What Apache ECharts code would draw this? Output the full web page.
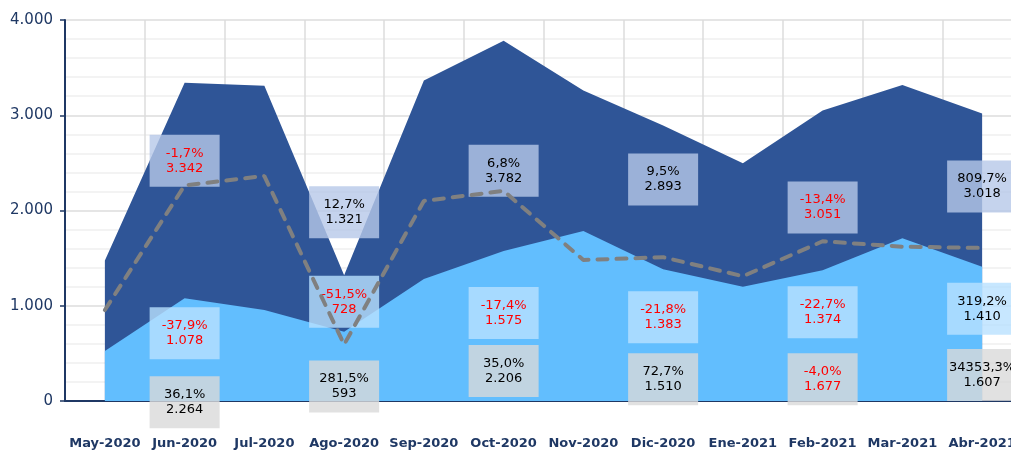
<!DOCTYPE html>
<html>
<head>
<meta charset="utf-8">
<script src="https://cdn.jsdelivr.net/npm/echarts@6/dist/echarts.min.js"></script>
<style>
  html, body { margin: 0; padding: 0; background: #fff; }
  #chart { width: 1011px; height: 452px; }
</style>
</head>
<body>
<div id="chart"></div>
<script>
// categories
var months = ['May-2020', 'Jun-2020', 'Jul-2020', 'Ago-2020', 'Sep-2020', 'Oct-2020',
  'Nov-2020', 'Dic-2020', 'Ene-2021', 'Feb-2021', 'Mar-2021', 'Abr-2021']

// series values
var darkValues = [1476, 3342, 3310, 1321, 3365, 3782, 3260, 2893, 2495, 3051, 3318, 3018]
var lightValues = [525, 1078, 955, 728, 1281, 1575, 1785, 1383, 1200, 1374, 1708, 1410]
var lineValues = [955, 2264, 2362, 593, 2100, 2206, 1480, 1510, 1310, 1677, 1620, 1607]

// percent change labels (null = no label)
var darkPct = [null, '-1,7%', null, '12,7%', null, '6,8%', null, '9,5%', null, '-13,4%', null, '809,7%']
var lightPct = [null, '-37,9%', null, '-51,5%', null, '-17,4%', null, '-21,8%', null, '-22,7%', null, '319,2%']
var linePct = [null, '36,1%', null, '281,5%', null, '35,0%', null, '72,7%', null, '-4,0%', null, '34353,3%']

// y axis ticks
var yMin = 0
var yMax = 4000
var yStep = 1000

// label box vertical offsets (px, from point)
var darkOffsets = [0, 78, 0, -63, 0, 130, 0, 54, 0, 97, 0, 73]
var lightOffsets = [0, 35, 0, -30, 0, 62, 0, 48, 0, 42, 0, 42]
var lineOffsets = [0, 217, 0, 42, 0, 180, 0, 122, 0, 138, 0, 127]

var NAVY = '#1F3864'
var FONT = 'DejaVu Sans'

function fmt (v) {
  return String(v).replace(/\B(?=(\d{3})+(?!\d))/g, '.')
}

function buildData (values, pcts, offsets, boxColor) {
  return values.map(function (v, i) {
    if (!pcts[i]) return { value: v, label: { show: false } }
    var neg = pcts[i].charAt(0) === '-'
    return {
      value: v,
      label: {
        show: true,
        position: 'inside',
        offset: [0, offsets[i]],
        formatter: pcts[i] + '\n' + fmt(v),
        color: neg ? '#FF0000' : '#000000',
        backgroundColor: boxColor,
        width: 70,
        height: 52,
        padding: 0,
        align: 'center',
        verticalAlign: 'middle',
        lineHeight: 15,
        fontSize: 13,
        fontFamily: FONT
      }
    }
  })
}

var chart = echarts.init(document.getElementById('chart'))
chart.setOption({
  animation: false,
  grid: {
    left: 65,
    top: 20,
    width: 957,
    height: 381,
    outerBoundsMode: 'none',
    containLabel: false
  },
  xAxis: {
    type: 'category',
    data: months,
    boundaryGap: true,
    axisLine: { lineStyle: { color: NAVY, width: 2 } },
    axisTick: { show: false },
    splitLine: { show: true, lineStyle: { color: '#DDDDDD', width: 1.5 } },
    axisLabel: {
      color: NAVY,
      fontWeight: 'bold',
      fontSize: 13,
      fontFamily: FONT,
      margin: 36,
      interval: 0
    }
  },
  yAxis: {
    type: 'value',
    min: yMin,
    max: yMax,
    interval: yStep,
    axisLine: { show: true, lineStyle: { color: NAVY, width: 2 } },
    axisTick: { show: true, length: 5, lineStyle: { color: NAVY, width: 1.5 } },
    splitLine: { lineStyle: { color: '#DDDDDD', width: 1.5 } },
    minorTick: { show: false, splitNumber: 5 },
    minorSplitLine: { show: true, lineStyle: { color: '#F0F0F0', width: 1.5 } },
    axisLabel: {
      color: NAVY,
      fontSize: 15,
      fontFamily: FONT,
      margin: 12,
      formatter: function (v) { return fmt(v) }
    }
  },
  series: [
    {
      name: 'dark',
      type: 'line',
      symbol: 'circle',
      symbolSize: 0,
      showSymbol: true,
      lineStyle: { width: 0 },
      areaStyle: { color: '#2F5597', opacity: 1 },
      data: buildData(darkValues, darkPct, darkOffsets, 'rgba(182,200,233,0.8)'),
      z: 1
    },
    {
      name: 'light',
      type: 'line',
      symbol: 'circle',
      symbolSize: 0,
      showSymbol: true,
      lineStyle: { width: 0 },
      areaStyle: { color: '#62BEFE', opacity: 1 },
      data: buildData(lightValues, lightPct, lightOffsets, 'rgba(185,225,255,0.8)'),
      z: 2
    },
    {
      name: 'line',
      type: 'line',
      symbol: 'circle',
      symbolSize: 0,
      showSymbol: true,
      lineStyle: { color: '#808080', width: 4, type: [10, 9], cap: 'round' },
      data: buildData(lineValues, linePct, lineOffsets, 'rgba(217,217,217,0.8)'),
      z: 3
    }
  ]
})
</script>
</body>
</html>
